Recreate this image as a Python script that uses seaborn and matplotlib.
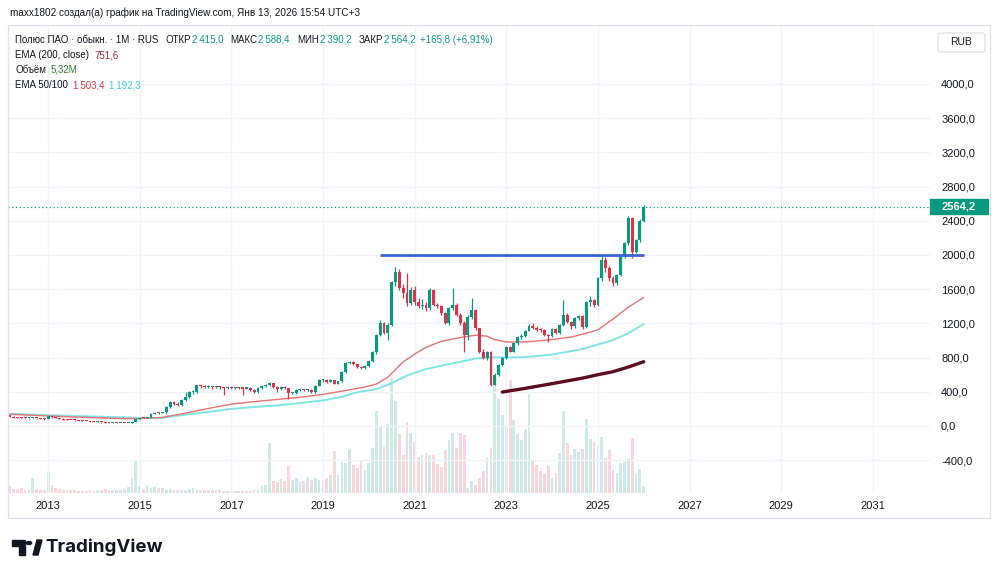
import numpy as np
import pandas as pd
import matplotlib
matplotlib.use('Agg')
import matplotlib.pyplot as plt
import matplotlib.dates as mdates
import matplotlib.transforms as mtransforms
from matplotlib.patches import Rectangle, FancyBboxPatch, Polygon, Circle
import seaborn as sns

sns.set_theme(style='white')
plt.rcParams['font.family'] = ['Liberation Sans', 'DejaVu Sans']

# ---- monthly candles, Mar 2012 .. Jan 2026 ----
first_open = 128
closes_2012 = [108, 96, 92, 90, 88, 92, 95, 90, 84, 80]
highs_2012 = [132, 112, 100, 96, 94, 95, 100, 98, 92, 88]
lows_2012 = [104, 92, 88, 86, 84, 85, 89, 86, 80, 75]
closes_2013 = [118, 100, 92, 86, 74, 70, 68, 66, 62, 58, 56, 52]
highs_2013 = [122, 120, 104, 96, 90, 78, 74, 72, 70, 66, 62, 59]
lows_2013 = [76, 96, 88, 82, 72, 66, 65, 63, 60, 56, 53, 49]
closes_2014 = [50, 50, 42, 40, 38, 38, 36, 36, 34, 34, 48, 86]
highs_2014 = [55, 54, 52, 46, 43, 42, 41, 39, 38, 37, 50, 95]
lows_2014 = [47, 46, 40, 37, 35, 34, 33, 33, 31, 30, 32, 45]
closes_2015 = [97, 95, 100, 142, 156, 152, 158, 220, 280, 261, 241, 300]
highs_2015 = [104, 102, 106, 150, 165, 162, 166, 228, 292, 290, 275, 310]
lows_2015 = [80, 88, 90, 96, 135, 145, 146, 152, 214, 250, 232, 236]
closes_2016 = [339, 398, 400, 476, 462, 455, 460, 452, 458, 450, 440, 452]
highs_2016 = [398, 410, 420, 485, 495, 475, 478, 470, 472, 466, 455, 462]
lows_2016 = [290, 325, 375, 385, 448, 440, 445, 438, 445, 436, 359, 432]
closes_2017 = [441, 445, 440, 438, 448, 425, 395, 445, 470, 482, 499, 450]
highs_2017 = [462, 456, 455, 452, 458, 452, 430, 450, 476, 490, 512, 505]
lows_2017 = [432, 430, 432, 363, 430, 412, 386, 390, 438, 460, 470, 440]
closes_2018 = [432, 458, 440, 380, 382, 420, 424, 418, 422, 392, 468, 538]
highs_2018 = [465, 466, 470, 448, 400, 428, 435, 432, 430, 428, 475, 548]
lows_2018 = [401, 425, 432, 316, 370, 375, 410, 410, 412, 385, 388, 462]
closes_2019 = [538, 520, 535, 495, 525, 630, 735, 748, 720, 690, 680, 700]
highs_2019 = [555, 548, 545, 540, 530, 640, 745, 760, 756, 730, 705, 710]
lows_2019 = [520, 505, 512, 488, 488, 518, 625, 720, 710, 680, 665, 672]
closes_2020 = [760, 860, 1064, 1205, 1090, 1180, 1688, 1805, 1614, 1552, 1435, 1590]
highs_2020 = [770, 880, 1080, 1240, 1215, 1200, 1700, 1863, 1840, 1660, 1790, 1620]
lows_2020 = [690, 745, 840, 1050, 1070, 1006, 1170, 1640, 1590, 1500, 1400, 1410]
closes_2021 = [1454, 1400, 1420, 1376, 1590, 1415, 1400, 1318, 1201, 1376, 1410, 1298]
highs_2021 = [1640, 1500, 1480, 1450, 1610, 1600, 1440, 1420, 1330, 1390, 1614, 1440]
lows_2021 = [1420, 1380, 1370, 1340, 1360, 1400, 1380, 1300, 1190, 1185, 1360, 1285]
closes_2022 = [1201, 1064, 1278, 1357, 1142, 869, 792, 869, 480, 600, 713, 795]
highs_2022 = [1320, 1230, 1300, 1493, 1370, 1150, 900, 880, 880, 620, 720, 810]
lows_2022 = [1180, 869, 1000, 1250, 1120, 850, 780, 770, 470, 478, 590, 700]
closes_2023 = [927, 869, 967, 1040, 1050, 1115, 1175, 1150, 1125, 1120, 1064, 1050]
highs_2023 = [940, 935, 975, 1050, 1070, 1125, 1190, 1200, 1170, 1150, 1130, 1080]
lows_2023 = [780, 860, 860, 950, 1020, 1040, 1105, 1130, 1110, 1100, 1050, 986]
closes_2024 = [1140, 1090, 1181, 1300, 1220, 1165, 1260, 1290, 1161, 1450, 1470, 1415]
highs_2024 = [1150, 1150, 1190, 1474, 1320, 1230, 1270, 1300, 1300, 1460, 1520, 1480]
lows_2024 = [1040, 1080, 1080, 1170, 1200, 1140, 1150, 1240, 1140, 1150, 1400, 1390]
closes_2025 = [1727, 1942, 1848, 1727, 1669, 1766, 1980, 2137, 2430, 2039, 2176, 2398]
highs_2025 = [1740, 1990, 1980, 1870, 1750, 1780, 1995, 2150, 2460, 2440, 2190, 2420]
lows_2025 = [1400, 1700, 1800, 1700, 1640, 1650, 1750, 1960, 2120, 1965, 2020, 2150]
closes_2026 = [2564.2]
highs_2026 = [2588.4]
lows_2026 = [2390.2]

# volume, millions of shares
vol_2012 = [5.3, 3.2, 3.2, 4.0, 2.6, 3.2, 11.9, 3.2, 2.6, 2.1]
vol_2013 = [17.2, 6.6, 4.0, 3.2, 2.6, 2.1, 2.6, 2.1, 1.6, 1.6, 1.6, 2.1]
vol_2014 = [1.6, 2.1, 2.6, 3.2, 2.6, 2.1, 2.6, 2.1, 3.2, 4.5, 12.4, 25.7]
vol_2015 = [5.3, 3.2, 6.6, 4.0, 4.8, 4.0, 3.7, 2.6, 3.2, 2.6, 2.1, 2.6]
vol_2016 = [2.6, 3.2, 4.0, 3.2, 2.6, 2.1, 2.1, 2.6, 2.1, 2.1, 1.6, 1.6]
vol_2017 = [1.6, 1.3, 1.3, 1.6, 1.3, 1.6, 2.1, 3.2, 5.3, 6.6, 39.7, 9.8]
vol_2018 = [8.5, 11.1, 9.8, 22.0, 10.6, 11.9, 8.5, 9.8, 13.2, 10.6, 11.9, 10.6]
vol_2019 = [10.6, 11.9, 14.6, 33.6, 14.6, 24.6, 23.8, 34.9, 22.5, 19.8, 25.7, 18.5]
vol_2020 = [23.8, 36.2, 66.1, 53.7, 37.0, 55.0, 91.8, 74.1, 47.6, 30.4, 56.9, 48.1]
vol_2021 = [40.5, 29.1, 30.4, 32.3, 30.4, 30.4, 23.0, 21.2, 34.4, 42.3, 48.1, 35.7]
vol_2022 = [48.4, 46.8, 4.0, 9.8, 6.6, 12.4, 17.7, 29.1, 36.2, 88.0, 75.4, 62.2]
vol_2023 = [52.9, 90.7, 58.2, 47.6, 42.3, 51.1, 79.4, 26.5, 22.5, 17.7, 15.1, 22.0]
vol_2024 = [12.4, 16.4, 31.7, 66.1, 39.7, 30.4, 35.2, 32.5, 34.9, 59.0, 42.9, 41.0]
vol_2025 = [37.8, 45.0, 27.8, 34.4, 18.5, 15.9, 23.8, 25.1, 27.2, 43.7, 15.1, 19.3]
vol_2026 = [5.32]

# indicator lines
ema50_dates = ['2012-03-01', '2013-01-01', '2014-01-01', '2014-09-01', '2015-01-01', '2015-07-01',
               '2016-01-01', '2016-07-01', '2017-01-01', '2017-07-01', '2018-01-01', '2018-07-01',
               '2019-01-01', '2019-07-01', '2019-12-01', '2020-03-01', '2020-06-01', '2020-08-01',
               '2020-10-01', '2021-01-01', '2021-04-01', '2021-08-01', '2022-01-01', '2022-05-01',
               '2022-08-01', '2022-10-01', '2023-01-01', '2023-06-01', '2024-01-01', '2024-06-01',
               '2024-10-01', '2025-01-01', '2025-05-01', '2025-09-01', '2026-01-01']
ema50_vals = [137, 117, 97, 86, 86, 100, 150, 205, 255, 285, 310, 335, 370, 415, 455, 490, 570, 660,
              750, 840, 920, 990, 1035, 1062, 1050, 1010, 982, 982, 1010, 1040, 1085, 1125, 1250,
              1390, 1503.4]
ema100_dates = ['2012-03-01', '2013-01-01', '2014-01-01', '2014-09-01', '2015-01-01', '2015-07-01',
                '2016-01-01', '2016-07-01', '2017-01-01', '2017-07-01', '2018-01-01', '2018-07-01',
                '2019-01-01', '2019-06-01', '2019-10-01', '2020-03-01', '2020-07-01', '2020-11-01',
                '2021-04-01', '2021-09-01', '2022-01-01', '2022-05-01', '2022-09-01', '2023-01-01',
                '2023-06-01', '2024-01-01', '2024-09-01', '2025-05-01', '2025-09-01', '2026-01-01']
ema100_vals = [142, 126, 110, 100, 92, 95, 132, 165, 200, 222, 240, 268, 300, 340, 395, 430, 500, 590,
               665, 715, 750, 790, 803, 800, 805, 835, 900, 1005, 1085, 1192.3]
ema200_dates = ['2022-12-01', '2023-06-01', '2024-01-01', '2024-09-01', '2025-01-01', '2025-05-01',
                '2025-09-01', '2026-01-01']
ema200_vals = [397, 440, 495, 560, 600, 635, 690, 751.6]

level_price = 2000
level_start, level_end = '2020-04-01', '2026-01-01'
last_price = 2564.2

price_ticks = [-400, 0, 400, 800, 1200, 1600, 2000, 2400, 2800, 3200, 3600, 4000]
year_ticks = [2013, 2015, 2017, 2019, 2021, 2023, 2025, 2027, 2029, 2031]

# ---- assemble ----
years = range(2012, 2027)
closes = np.array(sum([globals()[f'closes_{y}'] for y in years], []), dtype=float)
highs = np.array(sum([globals()[f'highs_{y}'] for y in years], []), dtype=float)
lows = np.array(sum([globals()[f'lows_{y}'] for y in years], []), dtype=float)
vols = np.array(sum([globals()[f'vol_{y}'] for y in years], []), dtype=float)
opens = np.concatenate([[first_open], closes[:-1]])
months = pd.date_range('2012-03-01', periods=len(closes), freq='MS')
xs = mdates.date2num(months)
up = closes >= opens

GREEN = '#089981'
RED = '#dc3349'
TXT = '#131722'
W, H = 1000, 575

fig = plt.figure(figsize=(10, 5.75), dpi=100)
fig.patch.set_facecolor('white')
rect = [8 / W, 1 - 493 / H, 922 / W, 468 / H]
ax_v = fig.add_axes(rect)
ax = fig.add_axes(rect, sharex=ax_v)
ax_v.set_zorder(0)
ax.set_zorder(1)
ax.patch.set_visible(False)

xmin = mdates.date2num(pd.Timestamp('2012-02-16'))
xmax = mdates.date2num(pd.Timestamp('2032-04-01'))

# volume
vcol = np.where(up, GREEN, RED)
ax_v.bar(xs, vols, width=22, color=vcol, alpha=0.2, linewidth=0)
ax_v.set_ylim(0, 375)
ax_v.set_xlim(xmin, xmax)
ax_v.axis('off')

# grid
for p in price_ticks:
    ax.axhline(p, color='#f0f3fa', lw=1, zorder=0)
for yv in year_ticks:
    ax.axvline(mdates.date2num(pd.Timestamp(f'{yv}-01-01')), color='#f0f3fa', lw=1, zorder=0)

# EMA lines
sns.lineplot(x=mdates.date2num(pd.to_datetime(ema100_dates)), y=ema100_vals, ax=ax,
             color='#7fe6e6', lw=1.4, zorder=2)
sns.lineplot(x=mdates.date2num(pd.to_datetime(ema50_dates)), y=ema50_vals, ax=ax,
             color='#e57373', lw=1.0, zorder=2)
sns.lineplot(x=mdates.date2num(pd.to_datetime(ema200_dates)), y=ema200_vals, ax=ax,
             color='#5d0d1e', lw=2.4, zorder=2)

# candles
ccol = np.where(up, GREEN, RED)
ax.vlines(xs, lows, highs, colors=ccol, lw=0.9, zorder=3)
body_h = np.maximum(np.abs(closes - opens), 12)
ax.bar(xs, body_h, bottom=np.minimum(opens, closes), width=23, color=ccol, linewidth=0, zorder=4)

# level line and last price line
ax.hlines(level_price, mdates.date2num(pd.Timestamp(level_start)),
          mdates.date2num(pd.Timestamp(level_end)), color='#3c66d6', lw=2, zorder=5)
ax.axhline(last_price, color=GREEN, lw=0.9, ls=(0, (1, 2)), zorder=1)

ax.set_xlim(xmin, xmax)
ax.set_ylim(-784, 4690)
for s in ax.spines.values():
    s.set_visible(False)
ax.set_xlabel('')
ax.set_ylabel('')

ax.yaxis.tick_right()
ax.set_yticks(price_ticks)
ax.set_yticklabels([f'{p:.1f}'.replace('.', ',') for p in price_ticks])
ax.tick_params(axis='y', length=0, pad=8, labelsize=8, labelcolor=TXT)
ax.set_xticks([mdates.date2num(pd.Timestamp(f'{yv}-01-01')) for yv in year_ticks])
ax.set_xticklabels([str(yv) for yv in year_ticks])
ax.tick_params(axis='x', length=0, pad=6, labelsize=8, labelcolor=TXT)
for lab in ax.get_yticklabels():
    lab.set_horizontalalignment('left')

# last price tag
tr = mtransforms.blended_transform_factory(ax.transAxes, ax.transData)
ax.add_patch(Rectangle((1.0, last_price - 90), 58 / 922, 180, transform=tr,
                       color=GREEN, clip_on=False, zorder=6))
ax.text(1.0 + 29 / 922, last_price, '2564,2', transform=tr, ha='center', va='center',
        color='white', fontsize=8, fontweight='bold', zorder=7, clip_on=False)

# frame and RUB box
fig.patches.append(Rectangle((8 / W, 1 - 518 / H), 982 / W, 493 / H, transform=fig.transFigure,
                             fill=False, edgecolor='#e0e3eb', lw=1))
fig.patches.append(FancyBboxPatch((938 / W, 1 - 52 / H), 47 / W, 19 / H,
                                  boxstyle='round,pad=0,rounding_size=0.004',
                                  transform=fig.transFigure, fill=False,
                                  edgecolor='#e0e3eb', lw=1))
fig.text(961 / W, 1 - 42 / H, 'RUB', ha='center', va='center', fontsize=7.5, color=TXT)

renderer = fig.canvas.get_renderer()


def chain(py, parts, x0=15, size=7):
    # place text pieces one after another on one line
    x = x0
    for s, color, gap in parts:
        t = fig.text(x / W, 1 - py / H, s, va='center', ha='left', fontsize=size, color=color)
        x = t.get_window_extent(renderer=renderer).x1 + gap


# header
chain(13, [('maxx1802 создал(а) график на TradingView.com, Янв 13, 2026 15:54 UTC+3', TXT, 0)],
      x0=10, size=7.2)

# legend lines
chain(40, [('Полюс ПАО · обыкн. · 1M · RUS', TXT, 7),
           ('ОТКР', TXT, 1), ('2\u2009415,0', GREEN, 7),
           ('МАКС', TXT, 1), ('2\u2009588,4', GREEN, 7),
           ('МИН', TXT, 1), ('2\u2009390,2', GREEN, 7),
           ('ЗАКР', TXT, 1), ('2\u2009564,2', GREEN, 5),
           ('+165,8 (+6,91%)', GREEN, 0)])
chain(55, [('EMA (200, close)', TXT, 5), ('751,6', '#a3243b', 0)])
chain(70, [('Объём', TXT, 5), ('5,32M', '#2e7d32', 0)])
chain(85, [('EMA 50/100', TXT, 5), ('1\u2009503,4', RED, 5), ('1\u2009192,3', '#3fd0d8', 0)])

# TradingView logo
fig.patches.append(Polygon([(12 / W, 1 - 540 / H), (25 / W, 1 - 540 / H), (25 / W, 1 - 555 / H),
                            (19 / W, 1 - 555 / H), (19 / W, 1 - 546 / H), (12 / W, 1 - 546 / H)],
                           closed=True, transform=fig.transFigure, color=TXT))
fig.patches.append(Circle((29 / W, 1 - 543 / H), 2.6 / W, transform=fig.transFigure, color=TXT))
fig.patches.append(Polygon([(33 / W, 1 - 555 / H), (37 / W, 1 - 540 / H), (42 / W, 1 - 540 / H),
                            (38 / W, 1 - 555 / H)],
                           closed=True, transform=fig.transFigure, color=TXT))
fig.text(45 / W, 1 - 547.5 / H, 'TradingView', fontsize=13.5, fontweight='bold',
         family=['Inter', 'DejaVu Sans'], color=TXT, va='center', ha='left')

fig.savefig('out.png', dpi=100, facecolor='white')
